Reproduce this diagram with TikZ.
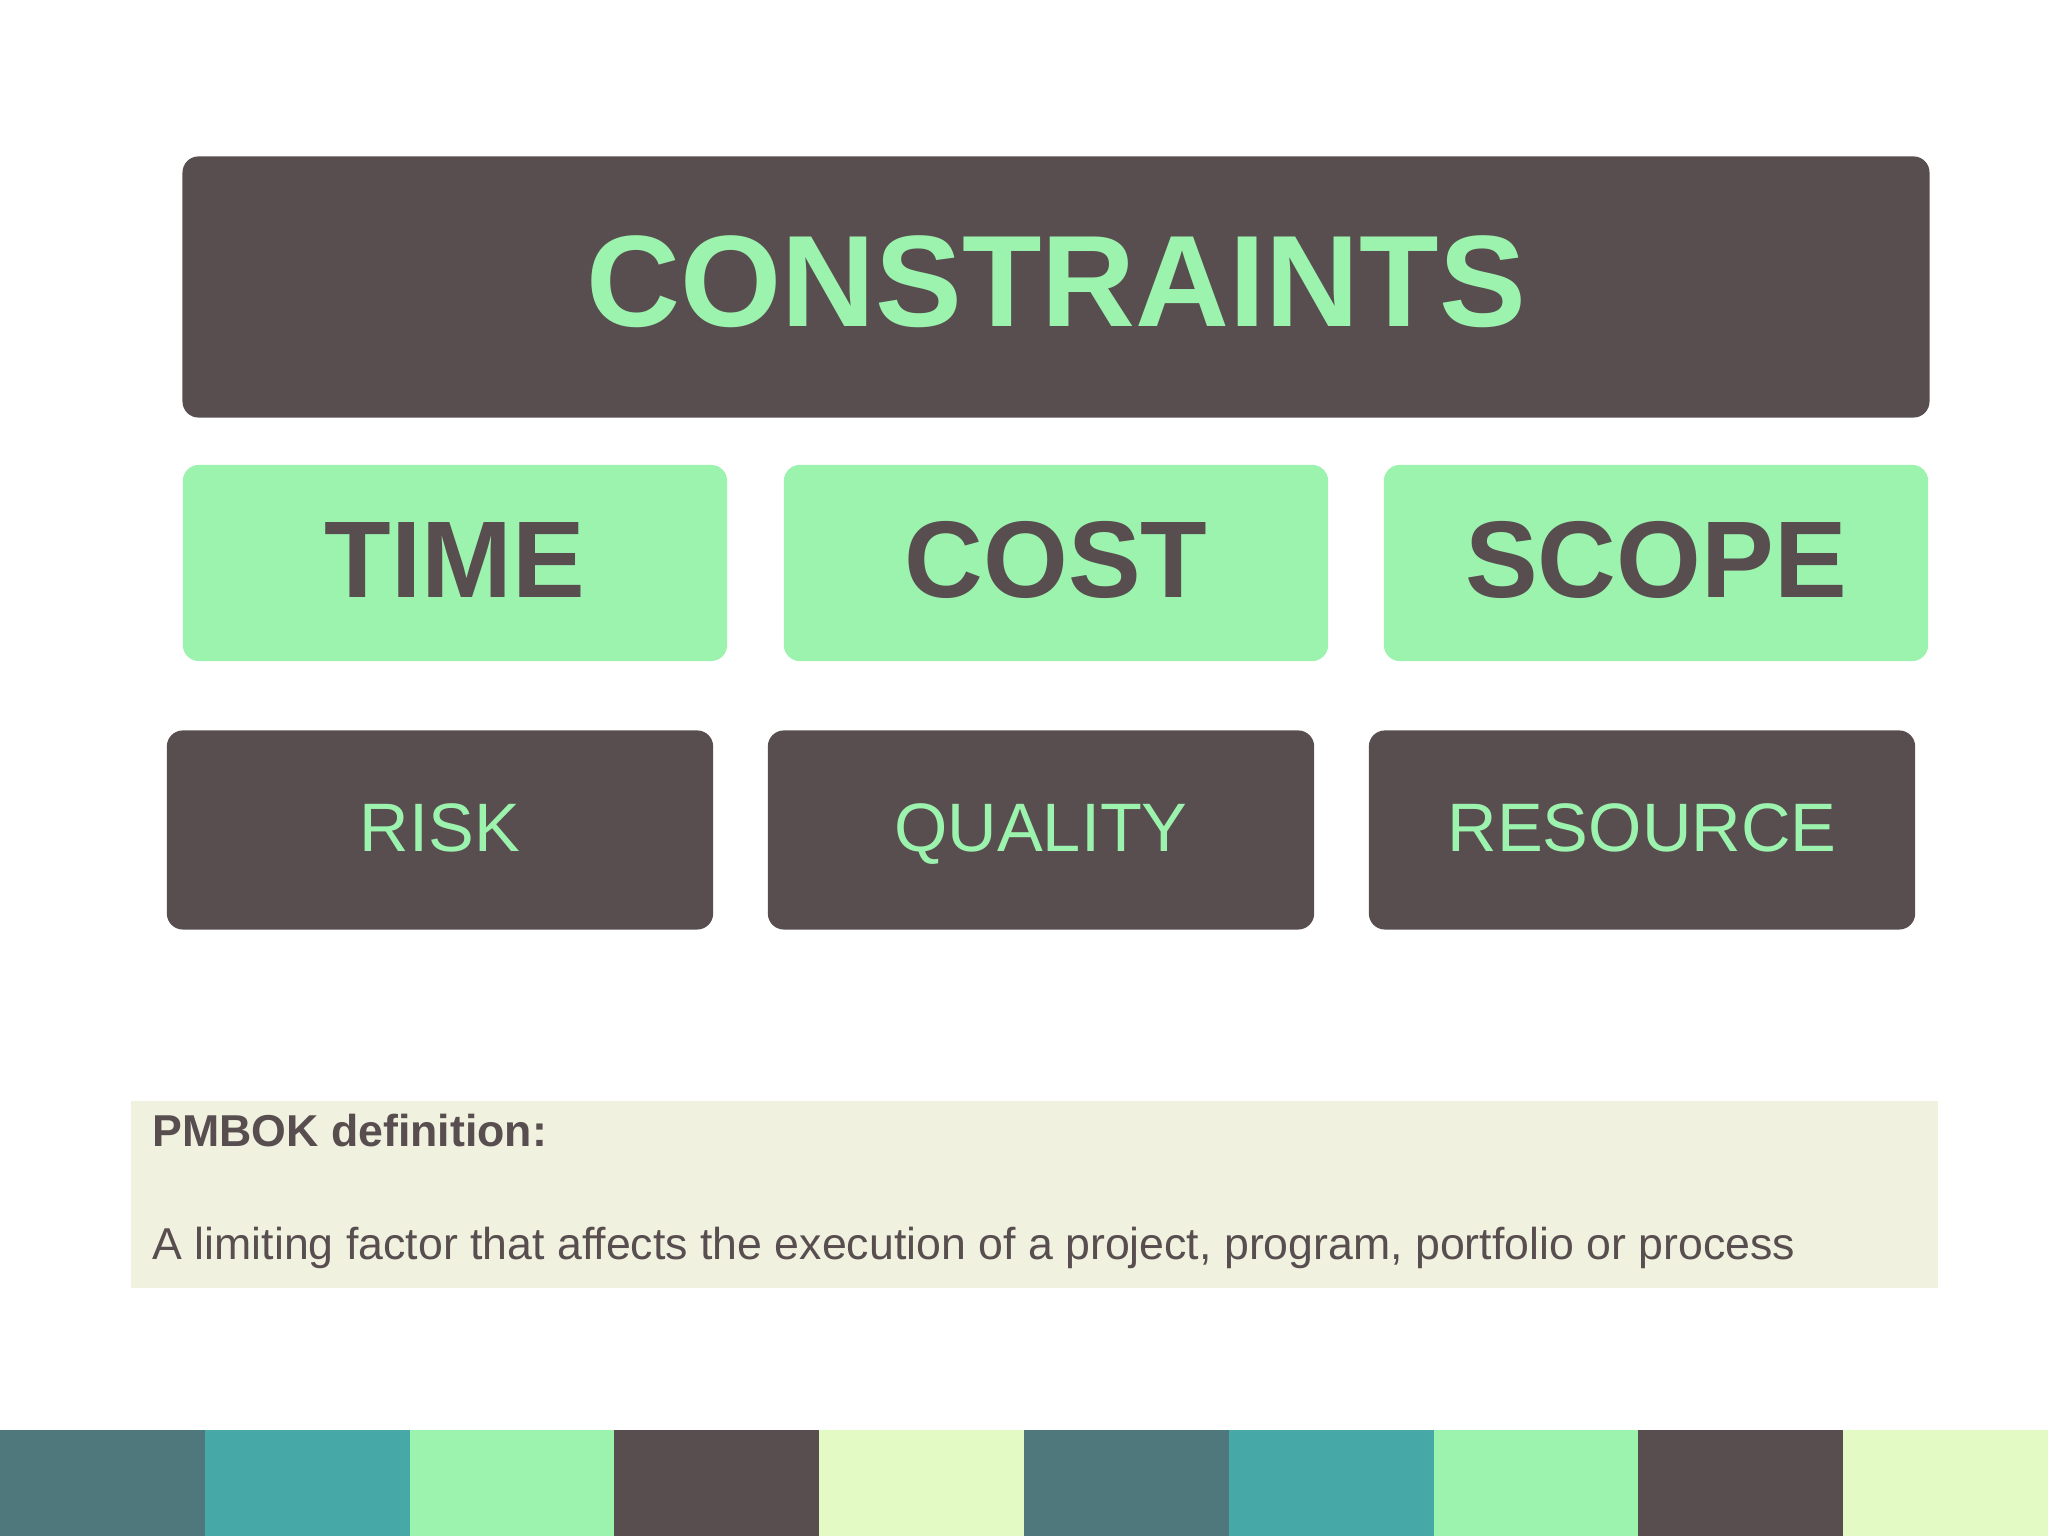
\documentclass[tikz,border=0pt]{standalone}
\usepackage{xcolor}
\usepackage{fontspec}
\setmainfont{Liberation Sans}
\usepackage{tikz}

\definecolor{slate}{HTML}{584E50}
\definecolor{mint}{HTML}{9CF3AE}
\definecolor{stripeteal}{HTML}{4F787D}
\definecolor{stripeaqua}{HTML}{46A9A8}
\definecolor{lime}{HTML}{E3FAC5}
\definecolor{cream}{HTML}{F0F1DE}

\begin{document}
\begin{tikzpicture}[
    x=0.01cm, y=0.01cm,
    headbox/.style={fill=slate, rounded corners=0.16cm, inner sep=0pt,
      minimum width=17.46cm, minimum height=2.61cm, text=mint,
      font=\fontsize{37}{40}\selectfont\bfseries,
      text height=26.5pt, text depth=4pt},
    mainbox/.style={fill=mint, rounded corners=0.16cm, inner sep=0pt,
      minimum width=5.44cm, minimum height=1.96cm, text=slate,
      font=\fontsize{31}{33}\selectfont\bfseries,
      text height=22pt, text depth=2.6pt},
    sidebox/.style={fill=slate, rounded corners=0.16cm, inner sep=0pt,
      minimum width=5.46cm, minimum height=1.99cm, text=mint,
      font=\fontsize{19.5}{22}\selectfont,
      text height=14pt, text depth=2pt},
    deftext/.style={anchor=base west, inner sep=0pt, text=slate,
      font=\fontsize{12.7}{15}\selectfont}
  ]

    \useasboundingbox (0, 0) rectangle (2048, 1536);

    % title block
    \node [headbox] (constraints) at (1056, 1249) {CONSTRAINTS};

    % triple constraint
    \node [mainbox] (time) at (455, 973) {TIME};
    \node [mainbox] (cost) at (1056, 973) {COST};
    \node [mainbox] (scope) at (1656, 973) {SCOPE};

    % further constraints
    \node [sidebox] (risk) at (440, 706) {RISK};
    \node [sidebox] (quality) at (1041, 706) {QUALITY};
    \node [sidebox] (resource) at (1642, 706) {RESOURCE};

    % definition
    \fill [cream] (131, 248) rectangle (1938, 435);
    \node [deftext, font=\fontsize{12.7}{15}\selectfont\bfseries] (defhead)
      at (152, 389) {PMBOK definition:};
    \node [deftext] (defbody) at (152, 276)
      {A limiting factor that affects the execution of a project, program, portfolio or process};

    % colour strip
    \foreach \c [count=\i from 0] in {stripeteal, stripeaqua, mint, slate, lime,
                                       stripeteal, stripeaqua, mint, slate, lime} {
      \fill [\c] ({\i*204.8}, 0) rectangle ({(\i+1)*204.8}, 106);
    }

  \end{tikzpicture}
\end{document}
